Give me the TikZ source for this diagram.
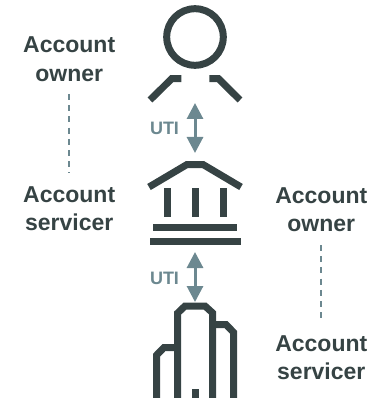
\documentclass[tikz,border=0pt]{standalone}
\usepackage{fontspec}
\setmainfont{Liberation Sans}
\usetikzlibrary{arrows.meta}
\definecolor{ink}{HTML}{364344}
\definecolor{steel}{HTML}{6C8890}
\tikzset{
  x=1pt,y=-1pt,
  icon/.style={draw=ink,line width=7pt,line cap=butt,line join=miter},
  bar/.style={fill=ink,draw=none},
  lab/.style={font=\fontsize{23}{29}\selectfont\bfseries,text=ink,inner sep=0pt,anchor=base},
  uti/.style={font=\fontsize{18}{20}\selectfont\bfseries,text=steel,inner sep=0pt,anchor=base},
  link/.style={draw=steel,line width=3pt,{Triangle[length=16pt,width=16pt]}-{Triangle[length=16pt,width=16pt]}},
  guide/.style={draw=steel,line width=2pt,dash pattern=on 6pt off 5.2pt}
}
\begin{document}
\begin{tikzpicture}
\useasboundingbox (0,0) rectangle (391,398);
% person
\node[icon,circle,minimum size=56.6pt,inner sep=0pt,fill=none] (head) at (195,37) {};
\draw[icon] (181.3,78.7) -- (171.7,78.7) -- (150,100);
\draw[icon] (209.3,78.7) -- (218.5,78.7) -- (240,100);
% bank
\draw[icon] (149,187) -- (187,164.5) -- (203,164.5) -- (241,187);
\draw[icon] (167.3,188) -- (167.3,216.7);
\draw[icon] (195,188) -- (195,216.7);
\draw[icon] (223,188) -- (223,216.7);
\fill[bar] (153,224) rectangle (237,231);
\fill[bar] (150,238) rectangle (241,245);
% building
\draw[icon] (177.7,398) -- (177.7,313) -- (185,306) -- (205,306) -- (212.7,313) -- (212.7,398);
\draw[icon] (212.7,324.5) -- (226,324.5) -- (233.7,332.5) -- (233.7,398);
\draw[icon] (177.7,347.5) -- (164,347.5) -- (156.7,355) -- (156.7,398);
\fill[bar] (191.5,389) rectangle (198.5,398);
% arrows
\coordinate (a1) at (195,103);
\coordinate (a2) at (195,153);
\coordinate (b1) at (195,252);
\coordinate (b2) at (195,302);
\draw[link] (a1) -- (a2);
\draw[link] (b1) -- (b2);
\node[uti] (uti1) at (164.5,135) {UTI};
\node[uti] (uti2) at (164.5,284.5) {UTI};
% labels
\node[lab] (lo1) at (69.2,53) {Account};
\node[lab] (lo2) at (69.2,82) {owner};
\node[lab] (ls1) at (69.2,202) {Account};
\node[lab] (ls2) at (69.2,230.5) {servicer};
\node[lab] (ro1) at (321.3,203) {Account};
\node[lab] (ro2) at (321.3,231.5) {owner};
\node[lab] (rs1) at (321.3,351.5) {Account};
\node[lab] (rs2) at (321.3,379.5) {servicer};
\coordinate (g1a) at (68.5,94);
\coordinate (g1b) at (68.5,173);
\coordinate (g2a) at (321.3,245);
\coordinate (g2b) at (321.3,323);
\draw[guide] (g1a) -- (g1b);
\draw[guide] (g2a) -- (g2b);
\end{tikzpicture}
\end{document}
